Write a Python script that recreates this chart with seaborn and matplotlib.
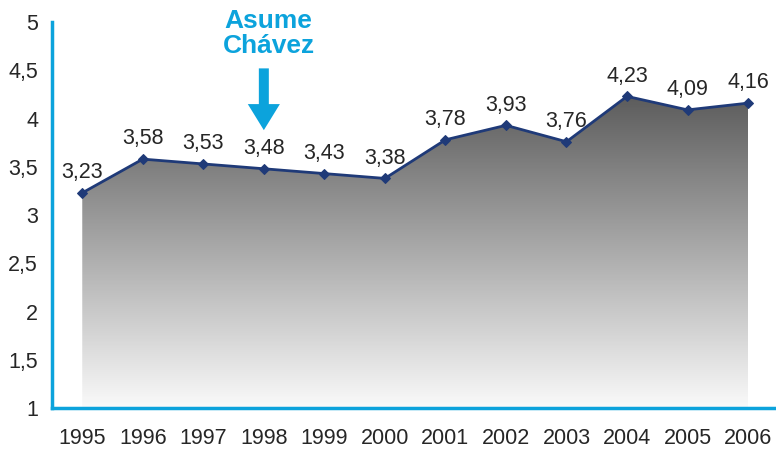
import numpy as np
import pandas as pd
import matplotlib
matplotlib.use("Agg")
import matplotlib.pyplot as plt
import seaborn as sns

years = ["1995", "1996", "1997", "1998", "1999", "2000",
         "2001", "2002", "2003", "2004", "2005", "2006"]
values = [3.23, 3.58, 3.53, 3.48, 3.43, 3.38, 3.78, 3.93, 3.76, 4.23, 4.09, 4.16]
note_year = "1998"
note_text = "Asume\nChávez"

sns.set_style("white")
plt.rcParams['font.family'] = ['Liberation Sans', 'DejaVu Sans']

cyan = "#0ca3dc"
navy = "#1f3a78"

df = pd.DataFrame({"year": years, "value": values})
xpos = np.arange(len(years))

fig = plt.figure(figsize=(7.76, 4.5), dpi=100)
ax = fig.add_axes([0.067, 0.093, 0.936, 0.858])

# gradient area under the line
poly = ax.fill_between(xpos, values, 1, color="none", lw=0)
grad = np.linspace(0, 1, 256).reshape(-1, 1)
cmap = matplotlib.colors.LinearSegmentedColormap.from_list("g", ["#fafafa", "#5c5c5c"])
img = ax.imshow(grad, cmap=cmap, aspect="auto", origin="lower",
                extent=[xpos[0], xpos[-1], 1, max(values)], zorder=1)
img.set_clip_path(poly.get_paths()[0], transform=ax.transData)

sns.lineplot(data=df, x=xpos, y="value", ax=ax, color=navy, lw=2,
             marker="D", markersize=5, markeredgecolor=navy, zorder=3)

for x, v in zip(xpos, values):
    ax.annotate(f"{v:.2f}".replace(".", ","), (x, v), xytext=(0, 7),
                textcoords="offset points", ha="center", va="bottom", fontsize=15.5)

ax.set_xlim(-0.5, len(years) - 0.5)
ax.set_ylim(1, 5)
ax.set_yticks(np.arange(1, 5.01, 0.5))
ax.set_yticklabels([f"{t:g}".replace(".", ",") for t in np.arange(1, 5.01, 0.5)])
ax.set_xticks(xpos)
ax.set_xticklabels(years)
ax.set_xticks(np.arange(0.5, len(years) - 0.5, 1), minor=True)
ax.tick_params(axis="x", which="major", length=0, pad=14, labelsize=15.5)
ax.tick_params(axis="x", which="minor", length=5, width=2, color=cyan, direction="out")
ax.tick_params(axis="y", length=5, width=2, color=cyan, direction="out", labelsize=15.5, pad=5)
ax.set_xlabel("")
ax.set_ylabel("")
for s in ["top", "right"]:
    ax.spines[s].set_visible(False)
for s in ["left", "bottom"]:
    ax.spines[s].set_color(cyan)
    ax.spines[s].set_linewidth(2.5)

# annotation
i = years.index(note_year)
ax.arrow(i, 4.52, 0, -0.64, width=0.165, head_width=0.53, head_length=0.27,
         length_includes_head=True, color=cyan, lw=0, clip_on=False, zorder=4)
ax.text(i + 0.08, 4.88, note_text, color=cyan, fontsize=19, fontweight="bold",
        ha="center", va="center", linespacing=1.08)

fig.savefig("out.png", dpi=100)
